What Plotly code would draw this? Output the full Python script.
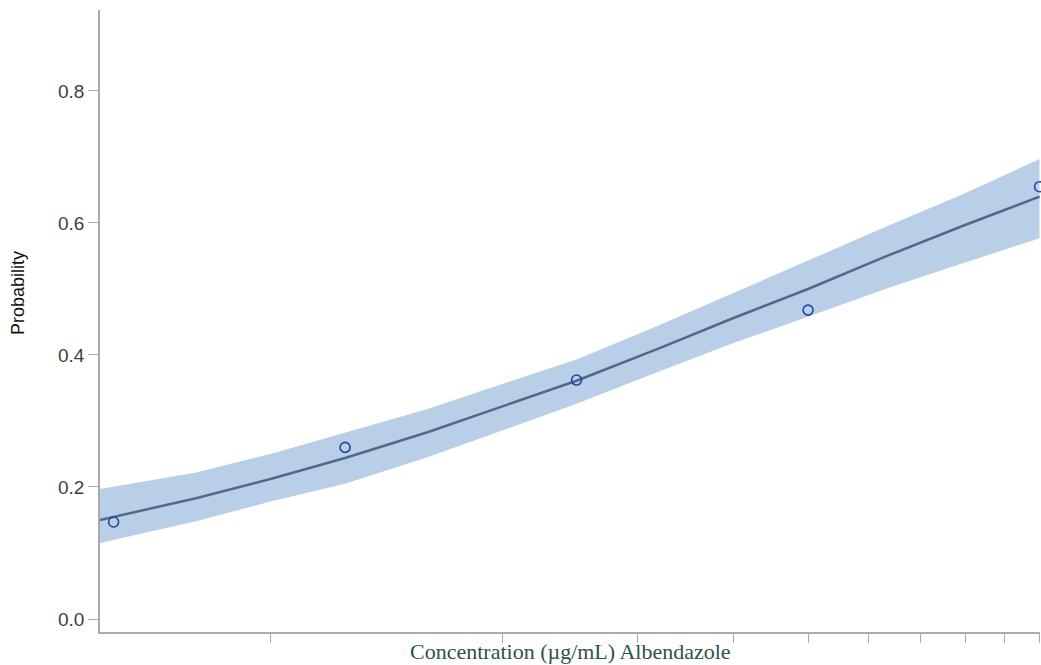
import plotly.graph_objects as go

# Concentration grid (µg/mL) and fitted probability with confidence band
conc_grid = [0.6, 0.8, 1.0, 1.25, 1.6, 2.0, 2.5, 3.2, 4.0, 5.0, 6.3, 8.0, 10.0]
fit_prob = [0.150, 0.183, 0.212, 0.244, 0.283, 0.322, 0.361, 0.410, 0.456, 0.500, 0.549, 0.597, 0.640]
upper_prob = [0.197, 0.222, 0.250, 0.282, 0.318, 0.356, 0.393, 0.445, 0.494, 0.543, 0.594, 0.645, 0.697]
lower_prob = [0.115, 0.148, 0.178, 0.205, 0.245, 0.286, 0.326, 0.375, 0.418, 0.458, 0.500, 0.540, 0.577]

# Observed points
obs_conc = [0.625, 1.25, 2.5, 5.0, 10.0]
obs_prob = [0.147, 0.260, 0.362, 0.468, 0.655]

x_ticks = [1, 2, 3, 4, 5, 6, 7, 8, 9, 10]
y_ticks = [0.0, 0.2, 0.4, 0.6, 0.8]

fig = go.Figure()
fig.add_trace(go.Scatter(x=conc_grid, y=upper_prob, mode="lines",
                         line=dict(width=0, color="rgba(0,0,0,0)"),
                         showlegend=False, hoverinfo="skip"))
fig.add_trace(go.Scatter(x=conc_grid, y=lower_prob, mode="lines",
                         line=dict(width=0, color="rgba(0,0,0,0)"),
                         fill="tonexty", fillcolor="#b9cfe7",
                         showlegend=False, hoverinfo="skip"))
fig.add_trace(go.Scatter(x=conc_grid, y=fit_prob, mode="lines",
                         line=dict(color="#52688a", width=2.5),
                         showlegend=False))
fig.add_trace(go.Scatter(x=obs_conc, y=obs_prob, mode="markers",
                         cliponaxis=False,
                         marker=dict(symbol="circle-open", size=10,
                                     line=dict(color="#2544a8", width=1.6),
                                     color="#2544a8"),
                         showlegend=False))

fig.update_layout(
    width=1041, height=665,
    margin=dict(l=100, r=1, t=10, b=33),
    paper_bgcolor="white", plot_bgcolor="white",
    font=dict(family="Liberation Sans, Arial, sans-serif", size=14, color="#333333"),
    xaxis=dict(type="log", range=[-0.2218, 1.0006],
               tickvals=x_ticks, showticklabels=False,
               ticks="outside", ticklen=9, tickcolor="#aaaaaa", tickwidth=1,
               showline=True, linecolor="#aaaaaa", linewidth=1.5,
               showgrid=False, zeroline=False),
    yaxis=dict(range=[-0.0197, 0.9227], tickvals=y_ticks, tickformat=".1f",
               ticks="outside", ticklen=10, tickcolor="#aaaaaa", tickwidth=1,
               showline=True, linecolor="#aaaaaa", linewidth=1.5,
               showgrid=False, zeroline=False,
               tickfont=dict(size=19, color="#404040")),
    annotations=[
        dict(text="Concentration (µg/mL) Albendazole", xref="paper", yref="paper",
             x=0.5, y=-0.031, xanchor="center", yanchor="middle", showarrow=False,
             font=dict(family="Liberation Serif, serif", size=22, color="#2e5246")),
        dict(text="Probability", xref="paper", yref="paper",
             x=-0.0872, y=0.545, xanchor="center", yanchor="middle", showarrow=False,
             textangle=-90,
             font=dict(family="Liberation Sans, Arial, sans-serif", size=18, color="#111111")),
    ],
)

fig.write_html(
    "out.html",
    config={"displayModeBar": False},
    post_script=("document.body.style.margin='0';"
                 "document.body.style.overflow='hidden';"
                 "document.documentElement.style.overflow='hidden';"),
)
